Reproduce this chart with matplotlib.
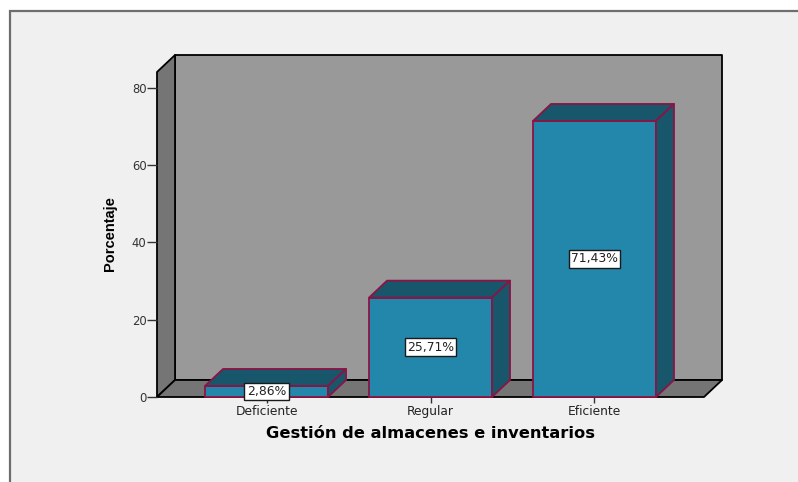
import matplotlib
matplotlib.use('Agg')
import matplotlib.pyplot as plt
from matplotlib.patches import Polygon, Rectangle

# --- Data ---
categories = ['Deficiente', 'Regular', 'Eficiente']
percentages = [2.86, 25.71, 71.43]
value_labels = ['2,86%', '25,71%', '71,43%']
y_ticks = [0, 20, 40, 60, 80]

# --- Style ---
W, H = 798, 482
BAR_FRONT = '#2387ab'
BAR_DARK = '#17566b'
BAR_EDGE = '#8c1444'
WALL = '#999999'
SIDE = '#757575'
PANEL = '#f0f0f0'
BAR_WIDTH = 0.75
DX = 0.11   # 3d depth in category units
DY = 4.4    # 3d depth in percent units
YMAX = 84.1

plt.rcParams['font.family'] = ['DejaVu Sans']

fig = plt.figure(figsize=(W / 100, H / 100), dpi=100, facecolor='white')
fig.add_artist(Rectangle((9.5 / W, -0.02), 1.0, 1 - 11 / H + 0.02, transform=fig.transFigure,
                         facecolor=PANEL, edgecolor='#6e6e6e', linewidth=1.6, zorder=-1))

ax = fig.add_axes([157 / W, 1 - 397 / H, (704 - 157) / W, (397 - 72) / H])
ax.set_xlim(-0.668, 2.668)
ax.set_ylim(0, YMAX)
ax.patch.set_visible(False)
for s in ax.spines.values():
    s.set_visible(False)

x0, x1 = ax.get_xlim()


def poly(pts, fc, ec='black', lw=1.3, z=1):
    ax.add_patch(Polygon(pts, closed=True, facecolor=fc, edgecolor=ec, linewidth=lw,
                         joinstyle='round', clip_on=False, zorder=z))


# walls and floor of the 3d box
poly([(x0 + DX, DY), (x1 + DX, DY), (x1 + DX, YMAX + DY), (x0 + DX, YMAX + DY)], WALL)
poly([(x0, 0), (x0 + DX, DY), (x0 + DX, YMAX + DY), (x0, YMAX)], SIDE)
poly([(x0, 0), (x1, 0), (x1 + DX, DY), (x0 + DX, DY)], SIDE)

# bars
for i, v in enumerate(percentages):
    l, r = i - BAR_WIDTH / 2, i + BAR_WIDTH / 2
    poly([(l, 0), (r, 0), (r, v), (l, v)], BAR_FRONT, BAR_EDGE, 1.3, 3)
    poly([(l, v), (r, v), (r + DX, v + DY), (l + DX, v + DY)], BAR_DARK, BAR_EDGE, 1.3, 3)
    poly([(r, 0), (r + DX, DY), (r + DX, v + DY), (r, v)], BAR_DARK, BAR_EDGE, 1.3, 3)
    ax.text(i, v / 2, value_labels[i], ha='center', va='center', fontsize=8.9, color='#222222', zorder=5,
            bbox=dict(boxstyle='square,pad=0.2', facecolor='white', edgecolor='#1a1a1a', linewidth=1.0))

ax.set_xticks(range(len(categories)))
ax.set_xticklabels(categories)
ax.set_yticks(y_ticks)
ax.tick_params(axis='y', length=7.2, width=1.0, labelsize=8.4, pad=0.3, color='#333333', labelcolor='#333333')
ax.tick_params(axis='x', length=4.3, width=1.0, labelsize=8.8, pad=1.8, color='#333333', labelcolor='#222222')

fig.text(430.5 / W, 1 - 433 / H, 'Gestión de almacenes e inventarios', ha='center', va='center',
         fontsize=11.7, fontweight='bold', family=['DejaVu Sans'])
fig.text(110 / W, 1 - 234 / H, 'Porcentaje', rotation=90, ha='center', va='center',
         fontsize=10.5, fontweight='bold', family=['Liberation Sans Narrow', 'Liberation Sans'])

fig.savefig('out.png', dpi=100, facecolor=fig.get_facecolor())
